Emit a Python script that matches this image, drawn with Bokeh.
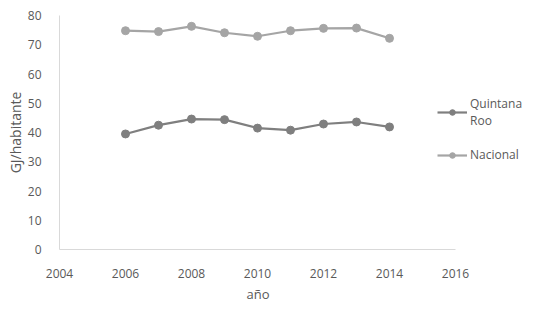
from bokeh.plotting import figure
from bokeh.models import Range1d, FixedTicker, Legend, LegendItem, Title
from bokeh.embed import file_html
from bokeh.resources import INLINE

years = [2006, 2007, 2008, 2009, 2010, 2011, 2012, 2013, 2014]
quintana_roo = [39.5, 42.5, 44.6, 44.4, 41.5, 40.8, 42.9, 43.6, 41.9]
nacional = [74.8, 74.5, 76.3, 74.1, 72.9, 74.8, 75.6, 75.7, 72.2]
x_ticks = [2004, 2006, 2008, 2010, 2012, 2014, 2016]
y_ticks = [0, 10, 20, 30, 40, 50, 60, 70, 80]

FONT = "Open Sans"
TXT = "#595959"
C_QR = "#7f7f7f"
C_NA = "#a5a5a5"

p = figure(width=540, height=309, output_backend="svg", toolbar_location=None,
           x_range=Range1d(2004, 2018.515), y_range=Range1d(0, 80),
           min_border_left=59, min_border_right=2, min_border_top=15, min_border_bottom=60)
p.outline_line_color = None
p.grid.grid_line_color = None

for ax in (p.xaxis[0], p.yaxis[0]):
    ax.axis_line_color = "#d9d9d9"
    ax.axis_line_width = 1
    ax.major_tick_line_color = None
    ax.minor_tick_line_color = None
    ax.major_label_text_font = FONT
    ax.major_label_text_font_size = "12px"
    ax.major_label_text_color = TXT
    ax.axis_label_text_font = FONT
    ax.axis_label_text_font_size = "14px"
    ax.axis_label_text_color = TXT
    ax.axis_label_text_font_style = "normal"

p.xaxis.bounds = (2004, 2016)
p.xaxis.ticker = FixedTicker(ticks=x_ticks)
p.yaxis.ticker = FixedTicker(ticks=y_ticks)
p.xaxis.major_label_standoff = 13
p.yaxis.major_label_standoff = 12
p.yaxis.axis_label = "GJ/habitante"
p.yaxis.axis_label_standoff = 0

p.add_layout(Title(text="año", align="left", offset=187, text_font=FONT,
                   text_font_size="13px", text_color=TXT, text_font_style="normal",
                   standoff=5), "below")

l1 = p.line(years, quintana_roo, line_color=C_QR, line_width=2.2)
m1 = p.scatter(years, quintana_roo, size=8, fill_color=C_QR, line_color=C_QR)
l2 = p.line(years, nacional, line_color=C_NA, line_width=2.2)
m2 = p.scatter(years, nacional, size=8, fill_color=C_NA, line_color=C_NA)

legend = Legend(items=[LegendItem(label="Quintana\nRoo", renderers=[l1, m1]),
                       LegendItem(label="Nacional", renderers=[l2, m2])],
                location=(378, 86), border_line_color=None, background_fill_alpha=0,
                label_text_font=FONT, label_text_font_size="12px", label_text_color=TXT,
                glyph_width=30, glyph_height=14, spacing=17, padding=0, margin=0,
                label_standoff=3)
p.add_layout(legend, "center")

open("out.html", "w").write(file_html(p, INLINE))
